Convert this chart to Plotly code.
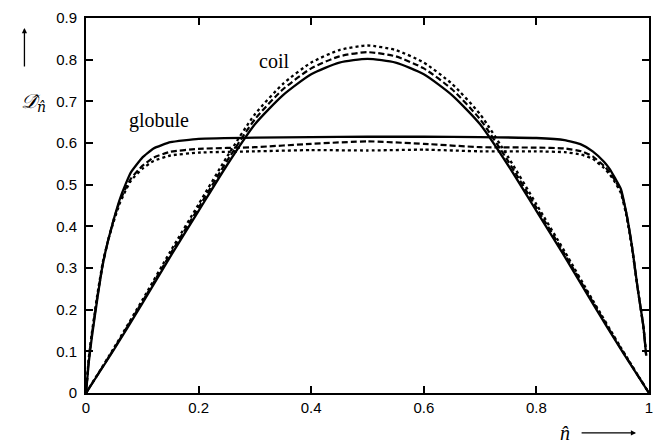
import plotly.graph_objects as go

# Position along the chain
n_coil = [0, 0.05, 0.1, 0.15, 0.2, 0.25, 0.3, 0.35, 0.4, 0.45, 0.5,
          0.55, 0.6, 0.65, 0.7, 0.75, 0.8, 0.85, 0.9, 0.95, 1.0]
coil_solid = [0, 0.105, 0.215, 0.328, 0.437, 0.546, 0.645, 0.715, 0.765, 0.793, 0.802,
              0.793, 0.765, 0.715, 0.645, 0.546, 0.437, 0.328, 0.215, 0.105, 0]
coil_dash = [0, 0.107, 0.219, 0.334, 0.445, 0.556, 0.657, 0.729, 0.779, 0.808, 0.818,
             0.808, 0.779, 0.729, 0.657, 0.556, 0.445, 0.334, 0.219, 0.107, 0]
coil_dot = [0, 0.109, 0.223, 0.340, 0.453, 0.566, 0.669, 0.742, 0.793, 0.823, 0.834,
            0.823, 0.793, 0.742, 0.669, 0.566, 0.453, 0.340, 0.223, 0.109, 0]

n_glob = [0, 0.005, 0.01, 0.02, 0.03, 0.04, 0.05, 0.06, 0.07, 0.08, 0.1, 0.12, 0.15,
          0.2, 0.3, 0.4, 0.5, 0.6, 0.7, 0.8, 0.85, 0.88, 0.9, 0.92, 0.93, 0.94,
          0.95, 0.96, 0.97, 0.98, 0.99, 0.995]
glob_solid = [0, 0.075, 0.13, 0.225, 0.31, 0.37, 0.42, 0.465, 0.50, 0.53, 0.565, 0.587, 0.602,
              0.610, 0.613, 0.614, 0.615, 0.615, 0.614, 0.612, 0.607, 0.596, 0.58, 0.555, 0.538, 0.515,
              0.49, 0.43, 0.35, 0.25, 0.16, 0.09]
glob_dash = [0, 0.08, 0.135, 0.23, 0.31, 0.37, 0.42, 0.46, 0.49, 0.515, 0.545, 0.565, 0.579,
             0.586, 0.590, 0.598, 0.604, 0.598, 0.590, 0.589, 0.587, 0.580, 0.568, 0.545, 0.53, 0.51,
             0.485, 0.43, 0.35, 0.25, 0.16, 0.09]
glob_dot = [0, 0.085, 0.14, 0.235, 0.315, 0.37, 0.415, 0.455, 0.485, 0.51, 0.538, 0.557, 0.570,
            0.577, 0.580, 0.583, 0.582, 0.584, 0.580, 0.580, 0.578, 0.572, 0.562, 0.54, 0.525, 0.505,
            0.48, 0.425, 0.345, 0.25, 0.16, 0.09]

x_ticks = [0, 0.2, 0.4, 0.6, 0.8, 1]
x_tick_text = ["0", "0.2", "0.4", "0.6", "0.8", "1"]
y_ticks = [0, 0.1, 0.2, 0.3, 0.4, 0.5, 0.6, 0.7, 0.8, 0.9]
y_tick_text = ["0", "0.1", "0.2", "0.3", "0.4", "0.5", "0.6", "0.7", "0.8", "0.9"]

fig = go.Figure()

styles = [("solid", 2.3), ("6px,3px", 2.2), ("dot", 2.3)]
for (dash, w), ys in zip(styles, [coil_solid, coil_dash, coil_dot]):
    fig.add_trace(go.Scatter(x=n_coil, y=ys, mode="lines",
                             line=dict(color="black", width=w, dash=dash, shape="spline", smoothing=0.6),
                             showlegend=False, hoverinfo="skip"))
for (dash, w), ys in zip(styles, [glob_solid, glob_dash, glob_dot]):
    fig.add_trace(go.Scatter(x=n_glob, y=ys, mode="lines",
                             line=dict(color="black", width=w, dash=dash, shape="spline", smoothing=0.4),
                             showlegend=False, hoverinfo="skip"))

# plot area: 86..653 px horizontally, 17..393 px vertically
L, R, T, B = 86, 653, 17, 393
W, H = R - L, B - T

def px(xp):
    return (xp - L) / W

def py(yp):
    return (B - yp) / H

axis_common = dict(showline=True, linecolor="black", linewidth=2, mirror="ticks",
                   ticks="inside", ticklen=7, tickwidth=1.5, tickcolor="black",
                   showgrid=False, zeroline=False,
                   tickfont=dict(family="Liberation Sans, Arial", size=15, color="black"))

fig.update_xaxes(range=[0, 1], tickvals=x_ticks, ticktext=x_tick_text, **axis_common)
fig.update_yaxes(range=[0, 0.9], tickvals=y_ticks, ticktext=y_tick_text,
                 ticklabelstandoff=4, **axis_common)

serif = dict(family="Liberation Serif, Times New Roman", size=20, color="black")

def label(xp, yp, text, font):
    return dict(x=px(xp), y=py(yp), xref="paper", yref="paper", text=text,
                showarrow=False, xanchor="center", yanchor="middle", font=font)

annotations = [
    label(275, 60, "coil", serif),
    label(160, 120, "globule", serif),
    label(33, 101, "<i>𝒟̂</i><sub><i>n̂</i></sub>",
          dict(family="DejaVu Serif, Liberation Serif", size=20, color="black")),
    label(568, 433, "<i>n̂</i>", serif),
    # axis direction arrows
    dict(x=px(24), y=py(27), xref="paper", yref="paper", text="", showarrow=True,
         ax=0, ay=40, arrowhead=2, arrowsize=0.8, arrowwidth=1.3, arrowcolor="black"),
    dict(x=px(640), y=py(433), xref="paper", yref="paper", text="", showarrow=True,
         ax=-56, ay=0, arrowhead=2, arrowsize=0.8, arrowwidth=1.3, arrowcolor="black"),
]

fig.update_layout(
    width=662, height=443,
    margin=dict(l=L, r=662 - R, t=T, b=443 - B),
    paper_bgcolor="white", plot_bgcolor="white",
    annotations=annotations,
)

fig.write_html("out.html")
